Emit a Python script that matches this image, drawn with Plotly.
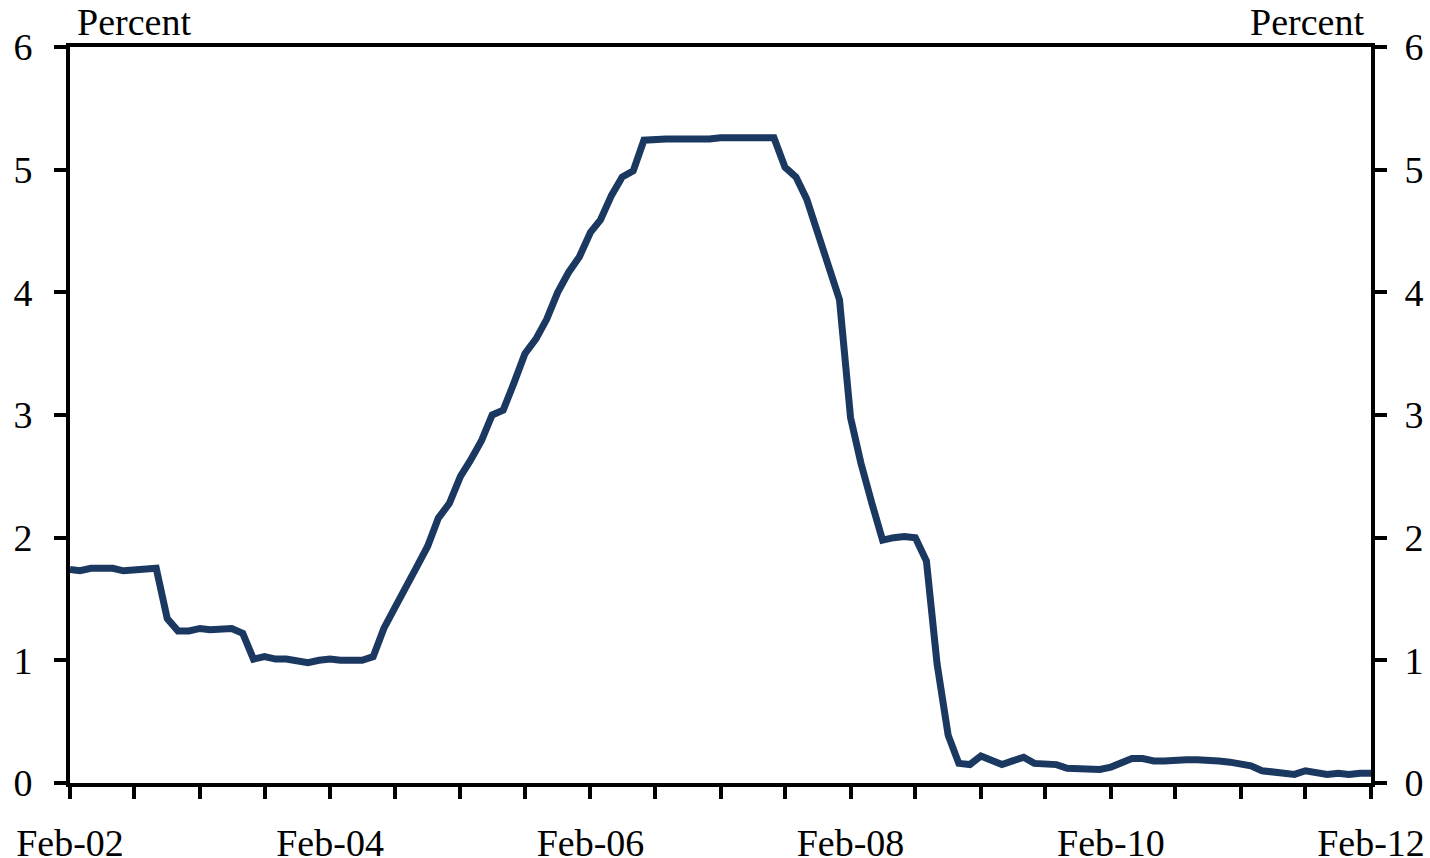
import pandas as pd
import plotly.graph_objects as go

# Monthly dates Feb 2002 - Feb 2012
months = pd.date_range("2002-02-01", "2012-02-01", freq="MS")

rate = [
    # 2002 Feb-Dec
    1.74, 1.73, 1.75, 1.75, 1.75, 1.73, 1.74, 1.75, 1.75, 1.34, 1.24,
    # 2003
    1.24, 1.26, 1.25, 1.26, 1.26, 1.22, 1.01, 1.03, 1.01, 1.01, 1.00, 0.98,
    # 2004
    1.00, 1.01, 1.00, 1.00, 1.00, 1.03, 1.26, 1.43, 1.61, 1.76, 1.93, 2.16,
    # 2005
    2.28, 2.50, 2.63, 2.79, 3.00, 3.04, 3.26, 3.50, 3.62, 3.78, 4.00, 4.16,
    # 2006
    4.29, 4.49, 4.59, 4.79, 4.94, 4.99, 5.24, 5.25, 5.25, 5.25, 5.25, 5.24,
    # 2007
    5.25, 5.26, 5.26, 5.25, 5.25, 5.25, 5.26, 5.02, 4.94, 4.76, 4.49, 4.24,
    # 2008
    3.94, 2.98, 2.61, 2.28, 1.98, 2.00, 2.01, 2.00, 1.81, 0.97, 0.39, 0.16,
    # 2009
    0.15, 0.22, 0.18, 0.15, 0.18, 0.21, 0.16, 0.16, 0.15, 0.12, 0.12, 0.12,
    # 2010
    0.11, 0.13, 0.16, 0.20, 0.20, 0.18, 0.18, 0.19, 0.19, 0.19, 0.19, 0.18,
    # 2011
    0.17, 0.16, 0.14, 0.10, 0.09, 0.09, 0.07, 0.10, 0.08, 0.07, 0.08, 0.07,
    # 2012 Jan-Feb
    0.08, 0.08,
]

tick_dates = pd.date_range("2002-02-01", "2012-02-01", freq="6MS")
tick_labels = ["Feb-02", "", "", "", "Feb-04", "", "", "", "Feb-06", "", "",
               "", "Feb-08", "", "", "", "Feb-10", "", "", "", "Feb-12"]
y_ticks = [0, 1, 2, 3, 4, 5, 6]

FONT = "Liberation Serif"
LINE_COLOR = "#1b3960"

fig = go.Figure()
fig.add_trace(go.Scatter(
    x=months, y=rate, mode="lines",
    line=dict(color=LINE_COLOR, width=7),
    showlegend=False, hoverinfo="skip",
))
# invisible trace so the right-hand axis is drawn
fig.add_trace(go.Scatter(
    x=[months[0]], y=[rate[0]], yaxis="y2", mode="markers",
    marker=dict(opacity=0), showlegend=False, hoverinfo="skip",
))

axis_common = dict(
    showgrid=False, zeroline=False, automargin=False,
    showline=True, linecolor="black", linewidth=4,
    ticks="outside", ticklen=12, tickwidth=4, tickcolor="black",
    tickfont=dict(family=FONT, size=38, color="black"),
)

fig.update_layout(
    template="none",
    width=1430, height=858,
    margin=dict(l=70, r=59, t=47, b=75, autoexpand=False),
    paper_bgcolor="white", plot_bgcolor="white",
    font=dict(family=FONT, size=38, color="black"),
    xaxis=dict(
        **axis_common,
        range=[months[0], months[-1]],
        tickvals=list(tick_dates), ticktext=tick_labels,
        mirror=True, ticklabelstandoff=11,
    ),
    yaxis=dict(
        **axis_common,
        range=[0, 6], tickvals=y_ticks, ticktext=[str(v) for v in y_ticks],
        ticklabelstandoff=14,
    ),
    yaxis2=dict(
        **axis_common,
        range=[0, 6], tickvals=y_ticks, ticktext=[str(v) for v in y_ticks],
        overlaying="y", side="right", ticklabelstandoff=10,
    ),
    annotations=[
        dict(text="Percent", xref="paper", yref="paper", x=0, y=1,
             xanchor="left", yanchor="bottom", xshift=5, yshift=2,
             showarrow=False, font=dict(family=FONT, size=38)),
        dict(text="Percent", xref="paper", yref="paper", x=1, y=1,
             xanchor="right", yanchor="bottom", xshift=-5, yshift=2,
             showarrow=False, font=dict(family=FONT, size=38)),
    ],
)

# remove the default page margin so the 1430x858 figure fills the window exactly
fig.write_html(
    "out.html",
    config={"displayModeBar": False, "staticPlot": True},
    post_script="document.body.style.margin='0';"
                "document.documentElement.style.overflow='hidden';",
)
